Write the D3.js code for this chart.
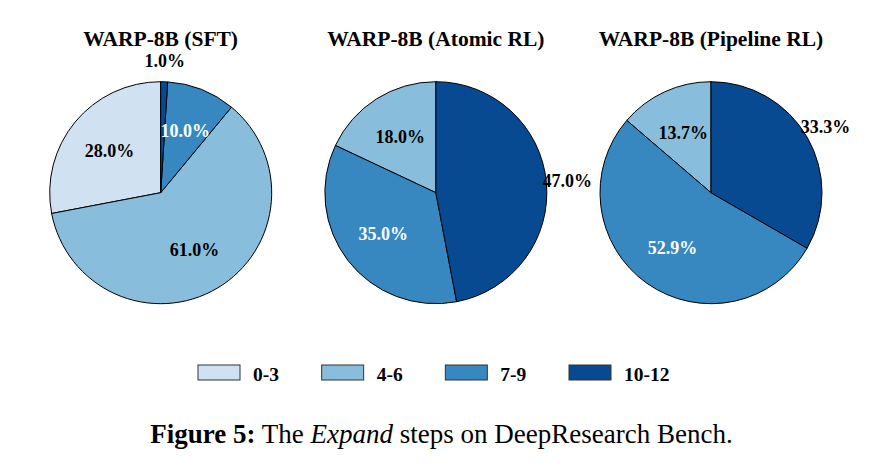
<!DOCTYPE html>
<html><head><meta charset="utf-8">
<script src="https://cdn.jsdelivr.net/npm/d3@7"></script>
<style>body{margin:0;background:#fff}svg{display:block}</style>
</head><body>
<svg id="chart" width="875" height="465"></svg>
<script>
const categories = ["0-3", "4-6", "7-9", "10-12"];
const colors = ["#d0e1f2", "#88bedc", "#3787c0", "#084a91"];
const labelColors = ["#000", "#000", "#fff", "#000"];
const titles = ["WARP-8B (SFT)", "WARP-8B (Atomic RL)", "WARP-8B (Pipeline RL)"];
const sftValues = [28.0, 61.0, 10.0, 1.0];
const atomicValues = [0, 18.0, 35.0, 47.0];
const pipelineValues = [0, 13.7, 52.9, 33.3];
const seriesValues = [sftValues, atomicValues, pipelineValues];

const svg = d3.select("#chart");
const font = "'Liberation Serif','Times New Roman',serif";
const R = 111;
const centersX = d3.scalePoint().domain(titles).range([160.7, 711]);
const cy = 192.7;

const pie = d3.pie().sort(null).value(d => d).startAngle(0).endAngle(-2 * Math.PI);
const arc = d3.arc().innerRadius(0).outerRadius(R);

titles.forEach((t, i) => {
  const cx = centersX(t);
  const g = svg.append("g").attr("transform", `translate(${cx},${cy})`);
  const arcs = pie(seriesValues[i]).map((a, k) => Object.assign(a, {k}));
  g.selectAll("path").data(arcs.filter(a => a.value > 0)).join("path")
    .attr("d", arc).attr("fill", a => colors[a.k])
    .attr("stroke", "#000").attr("stroke-width", 1).attr("stroke-linejoin", "round");
  g.selectAll("text.pct").data(arcs.filter(a => a.value > 0)).join("text")
    .attr("class", "pct")
    .attr("x", a => { const m = (a.startAngle + a.endAngle) / 2; const d = (a.k === 3 ? 1.19 : 0.6) * R; return Math.sin(m) * d; })
    .attr("y", a => { const m = (a.startAngle + a.endAngle) / 2; const d = (a.k === 3 ? 1.19 : 0.6) * R; return -Math.cos(m) * d; })
    .attr("dy", "0.36em")
    .attr("text-anchor", "middle")
    .attr("font-family", font).attr("font-weight", "bold").attr("font-size", 18)
    .attr("fill", a => labelColors[a.k])
    .text(a => a.value.toFixed(1) + "%");
  svg.append("text").attr("x", cx).attr("y", 46)
    .attr("text-anchor", "middle")
    .attr("font-family", font).attr("font-weight", "bold").attr("font-size", 21.5)
    .attr("fill", "#000").text(t);
});

// legend
const legendX = d3.scalePoint().domain(categories).range([198, 569]);
const lg = svg.append("g");
categories.forEach((c, k) => {
  const x = legendX(c);
  lg.append("rect").attr("x", x).attr("y", 365).attr("width", 42).attr("height", 15)
    .attr("fill", colors[k]).attr("stroke", "#333").attr("stroke-width", 1);
  lg.append("text").attr("x", x + 55).attr("y", 380.5)
    .attr("font-family", font).attr("font-weight", "bold").attr("font-size", 19.5)
    .attr("fill", "#000").text(c);
});

// caption
const cap = svg.append("text").attr("x", 441.5).attr("y", 442.5).attr("text-anchor", "middle")
  .attr("font-family", font).attr("font-size", 27).attr("fill", "#000");
cap.append("tspan").attr("font-weight", "bold").text("Figure 5:");
cap.append("tspan").text(" The ");
cap.append("tspan").attr("font-style", "italic").text("Expand");
cap.append("tspan").text(" steps on DeepResearch Bench.");
</script>
</body></html>
